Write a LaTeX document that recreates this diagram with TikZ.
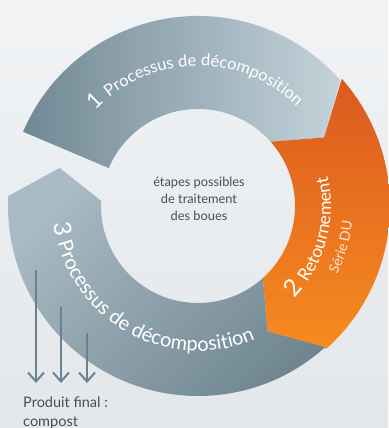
\documentclass[tikz,border=0pt]{standalone}
\usepackage{fontspec}
\setmainfont{Lato}
\usetikzlibrary{arrows.meta,decorations.text}

\definecolor{bgtop}{HTML}{F1F3F5}
\definecolor{bgbot}{HTML}{E3E7EA}
\definecolor{slatedark}{HTML}{718995}
\definecolor{slatelight}{HTML}{C4D3DA}
\definecolor{slatemid}{HTML}{A9BBC4}
\definecolor{slatelow}{HTML}{6F8691}
\definecolor{orangetop}{HTML}{DB5A1E}
\definecolor{orangebot}{HTML}{F68B20}
\definecolor{arrowcol}{HTML}{6B8390}
\definecolor{textcol}{HTML}{4D4D4D}
\definecolor{softwhite}{HTML}{FCE3D2}

\newcommand\numfont{\fontsize{22}{22}\selectfont}
\newcommand\segfont{\fontsize{16.5}{16.5}\selectfont}
\newcommand\segbigfont{\fontsize{20}{20}\selectfont}

\tikzset{
  ringtext/.style={postaction={decorate,
      decoration={text along path, text align=center, text color=white, text={#1}}}},
  outarrow/.style={draw=arrowcol, line width=2pt,
      -{Straight Barb[length=9pt, width=16pt, line width=2pt]}},
  infotext/.style={text=textcol, inner sep=0pt},
}

\begin{document}
\begin{tikzpicture}[x=1pt,y=1pt]
    % 背景
    \shade[top color=bgtop, bottom color=bgbot] (-198,-222) rectangle (190,206);
    \useasboundingbox (-198,-222) rectangle (190,206);
    \coordinate (O) at (0,0);

    % 第1段：分解过程
    \shade[left color=slatedark, right color=slatelight]
      (157:190) arc[start angle=157, end angle=41.5, radius=190]
      -- (28.5:143.5) -- (41.5:97)
      arc[start angle=41.5, end angle=157, radius=97] -- cycle;

    % 第2段：翻堆（橙色）
    \shade[top color=orangetop, bottom color=orangebot]
      (41.5:192) arc[start angle=41.5, end angle=-48, radius=192]
      -- (-61:143.5) -- (-48:97)
      arc[start angle=-48, end angle=41.5, radius=97]
      -- (28.5:143.5) -- cycle;

    % 第3段：分解过程
    \shade[top color=slatemid, bottom color=slatelow, shading angle=45]
      (-48:190) arc[start angle=-48, end angle=-183, radius=190]
      -- (-195.4:143.5) -- (-183:97)
      arc[start angle=-183, end angle=-48, radius=97]
      -- (-61:143.5) -- cycle;

    % 环上的文字
    \path[ringtext={|\numfont|1 |\segfont|Processus de décomposition}]
      (152:140) arc[start angle=152, end angle=30, radius=140];
    \path[ringtext={|\fontsize{24}{24}\selectfont|2 |\fontsize{17.5}{17.5}\selectfont|Retournement}]
      (-53:133) arc[start angle=-53, end angle=22, radius=133];
    \path[postaction={decorate, decoration={text along path, text align=center,
        text color=softwhite, text={|\fontsize{14}{14}\selectfont|Série DU}}}]
      (-40:155) arc[start angle=-40, end angle=8, radius=155];
    \path[ringtext={|\fontsize{24}{24}\selectfont|3 |\segbigfont|Processus de décomposition}]
      (178:145) arc[start angle=178, end angle=302, radius=145];

    % 中心文字
    \node[infotext, align=center, font=\fontsize{12.8}{17}\selectfont] (centre) at (1,7)
      {étapes possibles\\de traitement\\des boues};

    % 输出箭头
    \coordinate (a1) at (-162,-64);
    \coordinate (a2) at (-137,-101);
    \coordinate (a3) at (-111,-127);
    \coordinate (b1) at (-162,-177);
    \coordinate (b2) at (-137,-177);
    \coordinate (b3) at (-111,-177);
    \draw[outarrow] (a1) -- (b1);
    \draw[outarrow] (a2) -- (b2);
    \draw[outarrow] (a3) -- (b3);

    % 最终产品
    \node[infotext, anchor=north west, align=left, font=\fontsize{14.5}{19}\selectfont] (final)
      at (-175,-191) {Produit final :\\compost};
\end{tikzpicture}
\end{document}
